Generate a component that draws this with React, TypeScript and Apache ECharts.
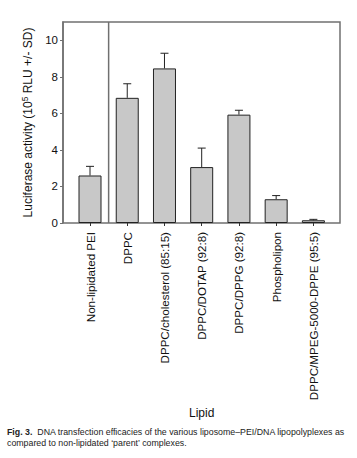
import React, { useEffect, useRef } from "react";
import * as echarts from "echarts";

const categories = [
  "Non-lipidated PEI",
  "DPPC",
  "DPPC/cholesterol (85:15)",
  "DPPC/DOTAP (92:8)",
  "DPPC/DPPG (92:8)",
  "Phospholipon",
  "DPPC/MPEG-5000-DPPE (95:5)",
];
const values = [2.6, 6.85, 8.46, 3.06, 5.93, 1.3, 0.15];
const errors = [0.5, 0.77, 0.83, 1.04, 0.24, 0.2, 0.05];
const yTicks = [0, 2, 4, 6, 8, 10];
const yMax = 11;
const captionLine1 = "DNA transfection efficacies of the various liposome\u2013PEI/DNA lipopolyplexes as";
const captionLine2 = "compared to non-lipidated \u2018parent\u2019 complexes.";

const FONT = "Liberation Sans, Arial, sans-serif";

export default function App() {
  const ref = useRef<HTMLDivElement>(null);
  useEffect(() => {
    if (!ref.current) return;
    const chart = echarts.init(ref.current, undefined, { renderer: "svg" });
    const frameColor = "#707070";
    chart.setOption({
      animation: false,
      backgroundColor: "#ffffff",
      textStyle: { fontFamily: FONT },
      grid: [
        {
          left: 63, right: 17, top: 22, bottom: 235,
          show: true, borderColor: frameColor, borderWidth: 1.5, backgroundColor: "transparent",
        },
        { left: 71.4, right: 25, top: 22, bottom: 235 },
      ],
      xAxis: [
        { gridIndex: 0, type: "value", show: false, min: 0, max: 1 },
        {
          gridIndex: 1,
          type: "category",
          data: categories,
          axisLine: { show: false },
          axisTick: { show: true, alignWithLabel: true, length: 3, lineStyle: { color: "#333" } },
          axisLabel: { rotate: 90, fontSize: 11.6, color: "#111", margin: 9, fontFamily: FONT, interval: 0 },
          name: "Lipid",
          nameLocation: "middle",
          nameGap: 184,
          nameTextStyle: { fontSize: 12, color: "#111", fontFamily: FONT },
        },
      ],
      yAxis: [
        {
          gridIndex: 0,
          type: "value",
          min: 0,
          max: yMax,
          axisLine: { show: true, lineStyle: { color: frameColor, width: 1.5 } },
          axisTick: { show: true, length: 3, customValues: yTicks, lineStyle: { color: frameColor } },
          axisLabel: { fontSize: 11.5, color: "#111", margin: 5, customValues: yTicks, fontFamily: FONT },
          splitLine: { show: false },
          name: "Luciferase activity (10{sup|5} RLU +/- SD)",
          nameLocation: "middle",
          nameGap: 26,
          nameTextStyle: {
            fontSize: 12,
            color: "#111",
            fontFamily: FONT,
            rich: { sup: { fontSize: 8.5, verticalAlign: "top", padding: [0, 0, 6, 0], fontFamily: FONT, color: "#111" } },
          },
        },
        { gridIndex: 1, type: "value", min: 0, max: yMax, show: false },
      ],
      series: [
        {
          type: "bar",
          xAxisIndex: 1,
          yAxisIndex: 1,
          data: values,
          barWidth: 23,
          itemStyle: { color: "#c8c8c8", borderColor: "#222", borderWidth: 1 },
          z: 2,
        },
        {
          type: "custom",
          xAxisIndex: 1,
          yAxisIndex: 1,
          data: values.map((v, i) => [i, v, v + errors[i]]),
          z: 3,
          renderItem: (params: any, api: any) => {
            const x = api.value(0);
            const lo = api.coord([x, api.value(1)]);
            const hi = api.coord([x, api.value(2)]);
            const cap = 4;
            return {
              type: "group",
              children: [
                { type: "line", shape: { x1: lo[0], y1: lo[1], x2: hi[0], y2: hi[1] }, style: { stroke: "#222", lineWidth: 1 } },
                { type: "line", shape: { x1: hi[0] - cap, y1: hi[1], x2: hi[0] + cap, y2: hi[1] }, style: { stroke: "#222", lineWidth: 1 } },
              ],
            };
          },
        },
        {
          type: "custom",
          xAxisIndex: 1,
          yAxisIndex: 1,
          data: [[0, 0, yMax]],
          z: 4,
          renderItem: (params: any, api: any) => {
            const p0 = api.coord([api.value(0), api.value(1)]);
            const p1 = api.coord([api.value(0), api.value(2)]);
            const bw = api.size([1, 0])[0];
            const x = p0[0] + bw / 2;
            return {
              type: "line",
              shape: { x1: x, y1: p0[1], x2: x, y2: p1[1] },
              style: { stroke: frameColor, lineWidth: 1.5 },
            };
          },
        },
      ],
      graphic: [
        {
          type: "text",
          left: 7,
          top: 427,
          style: {
            text: "{b|Fig. 3.}  " + captionLine1,
            fontSize: 8.8,
            fill: "#222",
            fontFamily: FONT,
            rich: { b: { fontWeight: "bold", fontSize: 8.8, fontFamily: FONT, fill: "#222" } },
          },
        },
        {
          type: "text",
          left: 7,
          top: 438,
          style: { text: captionLine2, fontSize: 8.8, fill: "#222", fontFamily: FONT },
        },
      ],
    });
    return () => chart.dispose();
  }, []);
  return <div ref={ref} style={{ position: "absolute", left: 0, top: 0, width: 357, height: 458 }} />;
}
